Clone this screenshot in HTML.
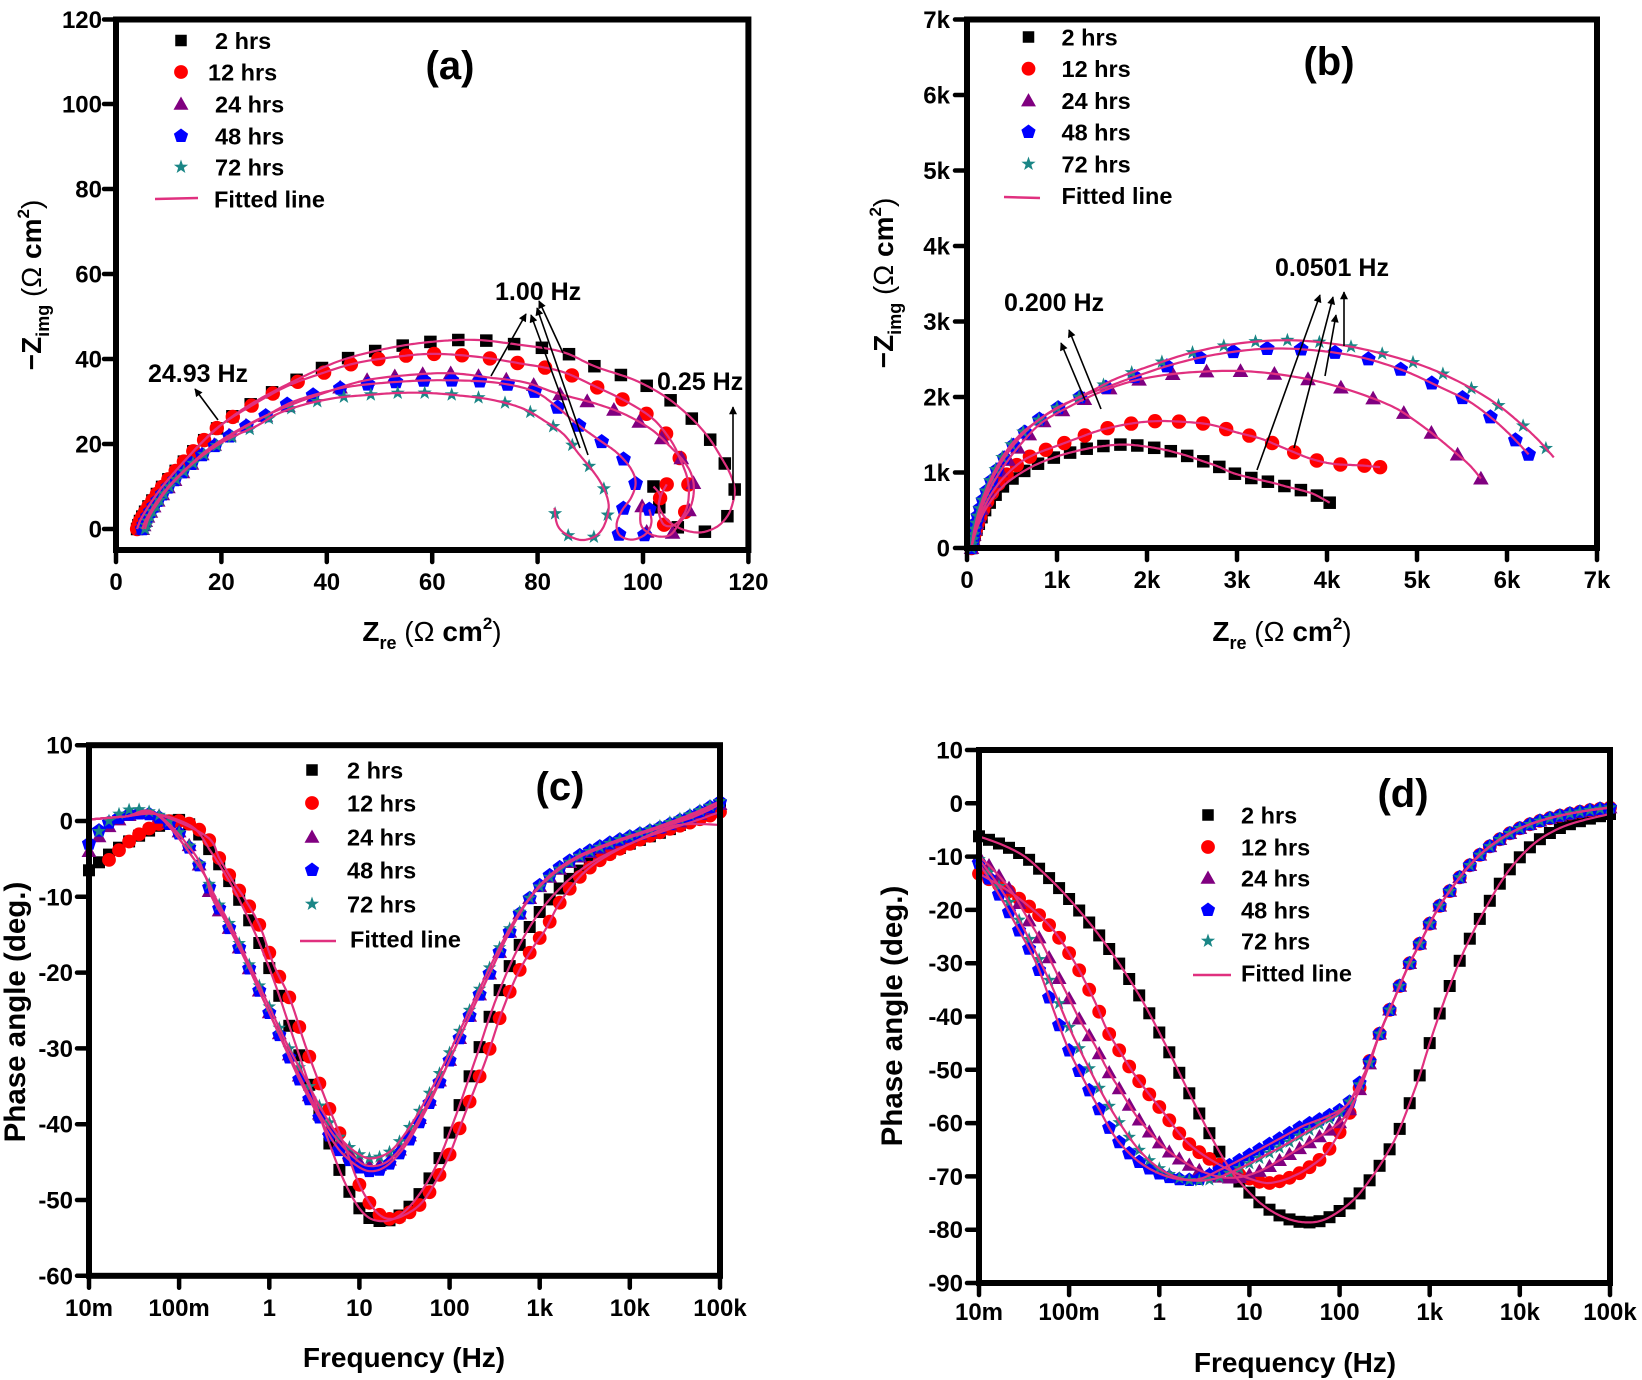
<!DOCTYPE html>
<html><head><meta charset="utf-8"><title>EIS plots</title>
<style>
html,body{margin:0;padding:0;background:#fff;width:1642px;height:1380px;overflow:hidden}
svg{display:block}
text{font-family:"Liberation Sans",Arial,sans-serif;font-weight:bold;fill:#000}
.n{font-weight:normal}
.t{font-size:24px}
.lg{font-size:23.5px}
.an{font-size:25px}
.ti{font-size:28px}
.tp{font-size:29.5px}
.pl{font-size:40px}
</style></head><body>
<svg id="svg" xmlns="http://www.w3.org/2000/svg" width="1642" height="1380" viewBox="0 0 1642 1380">
<defs>
<rect id="m-sq" x="-5" y="-5" width="10" height="10"/>
<circle id="m-ci" r="6"/>
<polygon id="m-tr" points="0,-6.5 6.5,5 -6.5,5"/>
<polygon id="m-pe" points="0,-6.5 6.18,-2.01 3.82,5.26 -3.82,5.26 -6.18,-2.01"/>
<polygon id="m-st" points="0,-6.5 1.53,-2.1 6.18,-2.01 2.47,0.8 3.82,5.26 0,2.6 -3.82,5.26 -2.47,0.8 -6.18,-2.01 -1.53,-2.1"/>
<marker id="ah" viewBox="0 0 10 10" refX="9" refY="5" markerWidth="11" markerHeight="8" markerUnits="userSpaceOnUse" orient="auto"><path d="M0,0 L10,5 L0,10 z" fill="#000"/></marker>
</defs>
<rect width="1642" height="1380" fill="#fff"/>
<g id="marks"></g>
<g id="lines"></g>

<!-- ===== Frames ===== -->
<g fill="none" stroke="#000" stroke-width="6">
<rect x="116" y="19.5" width="632.4" height="530.5"/>
<rect x="967" y="19.5" width="630" height="528.5"/>
<rect x="89" y="745.2" width="631" height="530.6"/>
<rect x="979" y="750" width="631" height="533"/>
</g>
<!-- ===== Ticks ===== -->
<g fill="none" stroke="#000" stroke-width="4.5" stroke-linecap="round">
<path d="M116,529h-12M116,444h-12M116,359h-12M116,274h-12M116,189h-12M116,104h-12M116,19.5h-12"/>
<path d="M116,550v12M221.4,550v12M326.8,550v12M432.2,550v12M537.6,550v12M643,550v12M748.4,550v12"/>
<path d="M967,548h-12M967,472.5h-12M967,397h-12M967,321.5h-12M967,246h-12M967,170.5h-12M967,95h-12M967,19.5h-12"/>
<path d="M967,548v12M1057,548v12M1147,548v12M1237,548v12M1327,548v12M1417,548v12M1507,548v12M1597,548v12"/>
<path d="M89,745.2h-12M89,821h-12M89,896.8h-12M89,972.6h-12M89,1048.4h-12M89,1124.2h-12M89,1200h-12M89,1275.8h-12"/>
<path d="M89,1275.8v12M179.1,1275.8v12M269.3,1275.8v12M359.4,1275.8v12M449.6,1275.8v12M539.7,1275.8v12M629.8,1275.8v12M720,1275.8v12"/>
<path d="M979,750h-12M979,803.3h-12M979,856.6h-12M979,909.9h-12M979,963.2h-12M979,1016.5h-12M979,1069.8h-12M979,1123.1h-12M979,1176.4h-12M979,1229.7h-12M979,1283h-12"/>
<path d="M979,1283v12M1069.1,1283v12M1159.3,1283v12M1249.4,1283v12M1339.6,1283v12M1429.7,1283v12M1519.8,1283v12M1610,1283v12"/>
</g>

<!-- ===== Tick labels (a) ===== -->
<g class="t" text-anchor="end">
<text x="102" y="537.5">0</text><text x="102" y="452.5">20</text><text x="102" y="367.5">40</text><text x="102" y="282.5">60</text><text x="102" y="197.5">80</text><text x="102" y="112.5">100</text><text x="102" y="28">120</text>
</g>
<g class="t" text-anchor="middle">
<text x="116" y="590">0</text><text x="221.4" y="590">20</text><text x="326.8" y="590">40</text><text x="432.2" y="590">60</text><text x="537.6" y="590">80</text><text x="643" y="590">100</text><text x="748.4" y="590">120</text>
</g>
<!-- (b) -->
<g class="t" text-anchor="end">
<text x="950" y="556.5">0</text><text x="950" y="481">1k</text><text x="950" y="405.5">2k</text><text x="950" y="330">3k</text><text x="950" y="254.5">4k</text><text x="950" y="179">5k</text><text x="950" y="103.5">6k</text><text x="950" y="28">7k</text>
</g>
<g class="t" text-anchor="middle">
<text x="967" y="588">0</text><text x="1057" y="588">1k</text><text x="1147" y="588">2k</text><text x="1237" y="588">3k</text><text x="1327" y="588">4k</text><text x="1417" y="588">5k</text><text x="1507" y="588">6k</text><text x="1597" y="588">7k</text>
</g>
<!-- (c) -->
<g class="t" text-anchor="end">
<text x="73" y="753.7">10</text><text x="73" y="829.5">0</text><text x="73" y="905.3">-10</text><text x="73" y="981.1">-20</text><text x="73" y="1056.9">-30</text><text x="73" y="1132.7">-40</text><text x="73" y="1208.5">-50</text><text x="73" y="1284.3">-60</text>
</g>
<g class="t" text-anchor="middle">
<text x="89" y="1316">10m</text><text x="179.1" y="1316">100m</text><text x="269.3" y="1316">1</text><text x="359.4" y="1316">10</text><text x="449.6" y="1316">100</text><text x="539.7" y="1316">1k</text><text x="629.8" y="1316">10k</text><text x="720" y="1316">100k</text>
</g>
<!-- (d) -->
<g class="t" text-anchor="end">
<text x="963" y="758.5">10</text><text x="963" y="811.8">0</text><text x="963" y="865.1">-10</text><text x="963" y="918.4">-20</text><text x="963" y="971.7">-30</text><text x="963" y="1025">-40</text><text x="963" y="1078.3">-50</text><text x="963" y="1131.6">-60</text><text x="963" y="1184.9">-70</text><text x="963" y="1238.2">-80</text><text x="963" y="1291.5">-90</text>
</g>
<g class="t" text-anchor="middle">
<text x="979" y="1320">10m</text><text x="1069.1" y="1320">100m</text><text x="1159.3" y="1320">1</text><text x="1249.4" y="1320">10</text><text x="1339.6" y="1320">100</text><text x="1429.7" y="1320">1k</text><text x="1519.8" y="1320">10k</text><text x="1610" y="1320">100k</text>
</g>

<!-- ===== Axis titles ===== -->
<text class="ti" x="432" y="641" text-anchor="middle">Z<tspan font-size="18" dy="8">re</tspan><tspan class="n" dy="-8"> (Ω </tspan>cm<tspan font-size="17" dy="-12">2</tspan><tspan class="n" dy="12">)</tspan></text>
<text class="ti" transform="translate(41,285) rotate(-90)" text-anchor="middle">−Z<tspan font-size="18" dy="8">img</tspan><tspan class="n" dy="-8"> (Ω </tspan>cm<tspan font-size="17" dy="-12">2</tspan><tspan class="n" dy="12">)</tspan></text>
<text class="ti" x="1282" y="641" text-anchor="middle">Z<tspan font-size="18" dy="8">re</tspan><tspan class="n" dy="-8"> (Ω </tspan>cm<tspan font-size="17" dy="-12">2</tspan><tspan class="n" dy="12">)</tspan></text>
<text class="ti" transform="translate(893,283) rotate(-90)" text-anchor="middle">−Z<tspan font-size="18" dy="8">img</tspan><tspan class="n" dy="-8"> (Ω </tspan>cm<tspan font-size="17" dy="-12">2</tspan><tspan class="n" dy="12">)</tspan></text>
<text class="ti" x="404" y="1367" text-anchor="middle">Frequency (Hz)</text>
<text class="tp" transform="translate(25,1012) rotate(-90)" text-anchor="middle">Phase angle (deg.)</text>
<text class="ti" x="1295" y="1372" text-anchor="middle">Frequency (Hz)</text>
<text class="tp" transform="translate(902,1016) rotate(-90)" text-anchor="middle">Phase angle (deg.)</text>

<!-- ===== Panel labels ===== -->
<text class="pl" x="450" y="79" text-anchor="middle">(a)</text>
<text class="pl" x="1329" y="75" text-anchor="middle">(b)</text>
<text class="pl" x="560" y="800" text-anchor="middle">(c)</text>
<text class="pl" x="1403" y="807" text-anchor="middle">(d)</text>

<!-- ===== Legends ===== -->
<g>
<use href="#m-sq" transform="translate(181,40.5) scale(1.15)" fill="#000"/>
<use href="#m-ci" transform="translate(181,72) scale(1.15)" fill="#ff0000"/>
<use href="#m-tr" transform="translate(181,104) scale(1.15)" fill="#800080"/>
<use href="#m-pe" transform="translate(181,136) scale(1.15)" fill="#0000ff"/>
<use href="#m-st" transform="translate(181,167) scale(1.15)" fill="#1a8686"/>
<line x1="155" y1="199" x2="198" y2="198" stroke="#e0307f" stroke-width="2.5"/>
<text class="lg" x="215" y="49">2 hrs</text>
<text class="lg" x="208" y="80.5">12 hrs</text>
<text class="lg" x="215" y="112.5">24 hrs</text>
<text class="lg" x="215" y="144.5">48 hrs</text>
<text class="lg" x="215" y="175.5">72 hrs</text>
<text class="lg" x="214" y="207.5">Fitted line</text>
</g>
<g>
<use href="#m-sq" transform="translate(1028.5,37) scale(1.15)" fill="#000"/>
<use href="#m-ci" transform="translate(1028.5,68.7) scale(1.15)" fill="#ff0000"/>
<use href="#m-tr" transform="translate(1028.5,100.6) scale(1.15)" fill="#800080"/>
<use href="#m-pe" transform="translate(1028.5,132) scale(1.15)" fill="#0000ff"/>
<use href="#m-st" transform="translate(1028.5,164) scale(1.15)" fill="#1a8686"/>
<line x1="1004" y1="197" x2="1040" y2="198" stroke="#e0307f" stroke-width="2.5"/>
<text class="lg" x="1061.5" y="45.5">2 hrs</text>
<text class="lg" x="1061.5" y="77.2">12 hrs</text>
<text class="lg" x="1061.5" y="109.1">24 hrs</text>
<text class="lg" x="1061.5" y="140.5">48 hrs</text>
<text class="lg" x="1061.5" y="172.5">72 hrs</text>
<text class="lg" x="1061.5" y="204">Fitted line</text>
</g>
<g>
<use href="#m-sq" transform="translate(312,770) scale(1.15)" fill="#000"/>
<use href="#m-ci" transform="translate(312,803) scale(1.15)" fill="#ff0000"/>
<use href="#m-tr" transform="translate(312,837) scale(1.15)" fill="#800080"/>
<use href="#m-pe" transform="translate(312,870) scale(1.15)" fill="#0000ff"/>
<use href="#m-st" transform="translate(312,904) scale(1.15)" fill="#1a8686"/>
<line x1="300" y1="941" x2="336" y2="941" stroke="#e0307f" stroke-width="2.5"/>
<text class="lg" x="347" y="778.5">2 hrs</text>
<text class="lg" x="347" y="811.5">12 hrs</text>
<text class="lg" x="347" y="845.5">24 hrs</text>
<text class="lg" x="347" y="878.5">48 hrs</text>
<text class="lg" x="347" y="912.5">72 hrs</text>
<text class="lg" x="350" y="947.5">Fitted line</text>
</g>
<g>
<use href="#m-sq" transform="translate(1208,815) scale(1.15)" fill="#000"/>
<use href="#m-ci" transform="translate(1208,847) scale(1.15)" fill="#ff0000"/>
<use href="#m-tr" transform="translate(1208,878) scale(1.15)" fill="#800080"/>
<use href="#m-pe" transform="translate(1208,910) scale(1.15)" fill="#0000ff"/>
<use href="#m-st" transform="translate(1208,941) scale(1.15)" fill="#1a8686"/>
<line x1="1193" y1="975" x2="1231" y2="975" stroke="#e0307f" stroke-width="2.5"/>
<text class="lg" x="1241" y="823.5">2 hrs</text>
<text class="lg" x="1241" y="855.5">12 hrs</text>
<text class="lg" x="1241" y="886.5">24 hrs</text>
<text class="lg" x="1241" y="918.5">48 hrs</text>
<text class="lg" x="1241" y="949.5">72 hrs</text>
<text class="lg" x="1241" y="981.5">Fitted line</text>
</g>

<!-- ===== Annotations ===== -->
<g stroke="#000" stroke-width="1.6" marker-end="url(#ah)">
<line x1="218" y1="420" x2="195" y2="389"/>
<line x1="491" y1="376" x2="526" y2="314"/>
<line x1="563" y1="353" x2="539" y2="301"/>
<line x1="580" y1="448" x2="531" y2="315"/>
<line x1="588" y1="455" x2="537" y2="308"/>
<line x1="733" y1="500" x2="733" y2="407"/>
<line x1="1101" y1="409" x2="1069" y2="330"/>
<line x1="1085" y1="400" x2="1061" y2="343"/>
<line x1="1257" y1="470" x2="1320" y2="295"/>
<line x1="1294" y1="448" x2="1333" y2="297"/>
<line x1="1325" y1="376" x2="1336" y2="315"/>
<line x1="1344" y1="346" x2="1344" y2="292"/>
</g>
<text class="an" x="148" y="382">24.93 Hz</text>
<text class="an" x="495" y="300">1.00 Hz</text>
<text class="an" x="657" y="390">0.25 Hz</text>
<text class="an" x="1004" y="311">0.200 Hz</text>
<text class="an" x="1275" y="276">0.0501 Hz</text>
</svg>
<script>
(function(){
const NS='http://www.w3.org/2000/svg';
const gM=document.getElementById('marks'), gL=document.getElementById('lines');
const PINK='#e0307f';
const COL={bk:'#000',rd:'#ff0000',pu:'#800080',bl:'#0000ff',te:'#1a8686'};
function add(p,tag,a){const e=document.createElementNS(NS,tag);for(const k in a)e.setAttribute(k,a[k]);p.appendChild(e);return e;}
function mark(t,x,y,c,s){add(gM,'use',{href:'#m-'+t,transform:'translate('+x.toFixed(1)+','+y.toFixed(1)+') scale('+s+')',fill:c});}
function line(poly){add(gL,'path',{d:'M'+poly.map(p=>p[0].toFixed(1)+','+p[1].toFixed(1)).join('L'),fill:'none',stroke:PINK,'stroke-width':2.2,'stroke-linejoin':'round'});}
function cr(pts,n){const o=[];for(let i=0;i<pts.length-1;i++){const p0=pts[Math.max(i-1,0)],p1=pts[i],p2=pts[i+1],p3=pts[Math.min(i+2,pts.length-1)];
 for(let j=0;j<n;j++){const t=j/n,t2=t*t,t3=t2*t;const f=k=>0.5*((2*p1[k])+(-p0[k]+p2[k])*t+(2*p0[k]-5*p1[k]+4*p2[k]-p3[k])*t2+(-p0[k]+3*p1[k]-3*p2[k]+p3[k])*t3);o.push([f(0),f(1)]);}}
 o.push(pts[pts.length-1].slice());return o;}
function resample(poly,sp){const r=[poly[0].slice()];let tot=0,need=sp(0),car=0;
 for(let i=1;i<poly.length;i++){let ax=poly[i-1][0],ay=poly[i-1][1];const bx=poly[i][0],by=poly[i][1];let d=Math.hypot(bx-ax,by-ay);
  while(d>0&&car+d>=need){const t=(need-car)/d;ax=ax+(bx-ax)*t;ay=ay+(by-ay)*t;d=Math.hypot(bx-ax,by-ay);tot+=need;r.push([ax,ay]);car=0;need=sp(tot);}
  car+=d;}
 const last=poly[poly.length-1];const lr=r[r.length-1];if(Math.hypot(last[0]-lr[0],last[1]-lr[1])>need*0.5)r.push(last.slice());
 return r;}
function yAt(d,x){for(let i=1;i<d.length;i++){const a=d[i-1],b=d[i];if((a[0]<=x&&x<=b[0])||(b[0]<=x&&x<=a[0])){const t=(b[0]===a[0])?0:(x-a[0])/(b[0]-a[0]);return a[1]+(b[1]-a[1])*t;}}return null;}

const XA=v=>116+5.27*v, YA=v=>529-4.25*v;
const XB=v=>967+90*v, YB=v=>548-75.5*v;
const XC=v=>89+90.14*(v+2), YC=v=>821-7.58*v;
const XD=v=>979+90.14*(v+2), YD=v=>803.3-5.33*v;

function nyq(data,X,Y,t,c,maxSp,sc){const px=data.map(p=>[X(p[0]),Y(p[1])]);const d=cr(px,12);
 const mk=resample(d,s=>Math.min(4+0.12*s,maxSp));mk.forEach(p=>mark(t,p[0],p[1],c,sc));line(d);}
function bode(data,X,Y,t,c,sc,fit){const d=cr(data.map(p=>[X(p[0]),Y(p[1])]),10);const x0=data[0][0],x1=data[data.length-1][0];
 for(let k=0;k<=63;k++){const lf=-2+k/9;if(lf<x0-1e-6||lf>x1+1e-6)continue;const y=yAt(d,X(lf));if(y!==null)mark(t,X(lf),y,c,sc);}
 line(fit?cr(fit.map(p=>[X(p[0]),Y(p[1])]),10):d);}

/* ---------- (a) ---------- */
const a_bk=[[4,0],[4.6,2],[5.5,4],[6.8,6.5],[8.5,9.5],[10.5,12.5],[13,16],[16,20],[19.5,24],[23,27.3],[27,30.4],[32,33.7],[37.5,37],[43.5,40],[51.5,42.5],[59.5,44],[68,44.5],[76.2,43.4],[84.6,41.7],[91,38.2],[98.5,35],[104.4,31],[109,26.3],[112.4,21.6],[115,16.5],[116.6,12.8],[117.4,9.3],[117,6],[116,3],[114,0.5],[111,-0.8],[108,-0.3],[105.5,1.2],[104,3],[103,5.5],[103.2,8],[102,10]];
const a_rd=[[4,0],[4.6,2],[5.5,4],[6.8,6.5],[8.5,9.5],[10.5,12.5],[13,16],[16,20],[19.6,24.2],[25,28.5],[32.3,33.5],[39,36.6],[45.4,39],[53,40.5],[60.3,41.2],[68.7,40.5],[76.5,39],[84.4,37.1],[91,33.5],[97,29.9],[102,25.8],[105.4,20.6],[107.2,16],[108.4,12],[108.7,8],[108,4],[106,1],[104,1],[103,4],[103.3,7.5],[104.5,10.5]];
const a_pu=[[5,0],[5.6,2],[6.5,4],[7.8,6.5],[9.5,9.3],[11.5,12],[14,15],[17,18.3],[20.5,21.3],[24.5,24.2],[29,27],[34,29.6],[39.5,32],[47.4,35],[57.3,36.4],[64.2,36.6],[71,35.6],[77.6,34.5],[83.5,32],[91,29.5],[96.5,27],[101.5,23.5],[105,19.6],[108,15.5],[109.4,12],[109.6,8.2],[108.8,4.6],[107,1.5],[105,-1.5],[102,-1.5],[99.8,0.5],[99.5,3.5],[100,6]];
const a_bl=[[5,0],[5.6,2],[6.5,4],[7.8,6.5],[9.5,9.3],[11.5,12],[14,15],[17,18],[20.5,21],[24.5,24],[29,27],[33.5,29.9],[39.5,32.2],[45.4,33.7],[54.3,34.7],[62.3,35],[71.7,34.5],[79.1,32.5],[83.5,28.9],[87.5,24.7],[91.5,21.1],[95,18],[97.6,14.4],[98.6,11],[97.8,7.5],[96,4.3],[95,1.2],[95.6,-1.5],[98,-2.5],[100.5,-1.2],[101.6,1.5],[101.2,4.6]];
const a_te=[[5.5,0],[6,2],[6.8,4],[8,6.3],[9.5,9],[11.5,11.8],[14,14.8],[17,17.8],[21,21],[26.6,24.2],[30.5,27],[35.5,29.2],[41.5,30.8],[47.4,31.5],[53.4,32],[59.3,32],[65.3,31.4],[71.3,30.4],[77.1,28.4],[81.5,25.3],[85,22.2],[87.6,18],[90,14.4],[91.8,11.3],[93,8.2],[93.5,5.2],[93,2],[92,-0.5],[90.5,-2],[88.5,-2.6],[86.6,-2],[84.6,-0.5],[83.6,1.5],[83.2,5]];
nyq(a_bk,XA,YA,'sq',COL.bk,28,1.25);
nyq(a_rd,XA,YA,'ci',COL.rd,28,1.2);
nyq(a_pu,XA,YA,'tr',COL.pu,28,1.2);
nyq(a_bl,XA,YA,'pe',COL.bl,28,1.2);
nyq(a_te,XA,YA,'st',COL.te,27,1.15);

/* ---------- (b) ---------- */
const b_bk=[[0.05,0],[0.08,0.15],[0.13,0.32],[0.2,0.5],[0.3,0.68],[0.42,0.84],[0.58,0.98],[0.76,1.1],[0.97,1.2],[1.2,1.28],[1.45,1.34],[1.72,1.37],[1.95,1.35],[2.2,1.3],[2.42,1.23],[2.62,1.15],[2.79,1.08],[2.94,1.0],[3.08,0.95],[3.26,0.9],[3.41,0.86],[3.56,0.81],[3.7,0.77],[3.84,0.72],[3.94,0.66],[4.03,0.6]];
const b_rd=[[0.05,0],[0.08,0.17],[0.13,0.36],[0.2,0.56],[0.3,0.77],[0.43,0.96],[0.6,1.14],[0.77,1.25],[0.97,1.34],[1.22,1.45],[1.48,1.56],[1.78,1.64],[2.09,1.68],[2.42,1.67],[2.72,1.63],[3.0,1.53],[3.26,1.45],[3.45,1.36],[3.65,1.26],[3.8,1.19],[3.95,1.14],[4.1,1.11],[4.26,1.1],[4.42,1.09],[4.59,1.07]];
const b_pu=[[0.05,0],[0.08,0.2],[0.13,0.42],[0.2,0.64],[0.3,0.88],[0.43,1.12],[0.6,1.38],[0.83,1.66],[1.15,1.88],[1.47,2.06],[1.84,2.21],[2.25,2.3],[2.69,2.34],[3.12,2.34],[3.58,2.28],[3.99,2.18],[4.4,2.03],[4.75,1.86],[5.01,1.66],[5.24,1.45],[5.43,1.26],[5.59,1.09],[5.71,0.92]];
const b_bl=[[0.05,0],[0.08,0.22],[0.13,0.46],[0.2,0.7],[0.3,0.96],[0.43,1.22],[0.6,1.48],[0.8,1.7],[1.05,1.88],[1.3,2.02],[1.55,2.13],[1.87,2.27],[2.31,2.44],[2.8,2.57],[3.33,2.64],[3.85,2.62],[4.36,2.53],[4.83,2.36],[5.24,2.14],[5.58,1.94],[5.85,1.7],[6.06,1.47],[6.24,1.24]];
const b_te=[[0.05,0],[0.08,0.23],[0.13,0.48],[0.2,0.73],[0.3,1.0],[0.43,1.27],[0.59,1.5],[0.8,1.7],[0.99,1.85],[1.23,1.99],[1.45,2.12],[1.67,2.25],[2.08,2.43],[2.54,2.6],[3.09,2.72],[3.65,2.75],[4.2,2.68],[4.69,2.55],[5.14,2.38],[5.55,2.15],[5.88,1.91],[6.13,1.67],[6.34,1.44],[6.52,1.2]];
nyq(b_bk,XB,YB,'sq',COL.bk,17,1.25);
nyq(b_rd,XB,YB,'ci',COL.rd,24,1.2);
nyq(b_pu,XB,YB,'tr',COL.pu,34,1.2);
nyq(b_bl,XB,YB,'pe',COL.bl,34,1.2);
nyq(b_te,XB,YB,'st',COL.te,32,1.15);

/* ---------- (c) ---------- */
const c_bk=[[-2,-6.5],[-1.75,-4.2],[-1.5,-2.3],[-1.25,-0.8],[-1.05,0.2],[-0.85,-0.8],[-0.65,-4],[-0.5,-6.8],[-0.35,-10],[-0.15,-15],[0.05,-21],[0.25,-28],[0.45,-35],[0.65,-42],[0.85,-48],[1.05,-51.8],[1.25,-52.8],[1.45,-52],[1.65,-49.5],[1.85,-45.5],[2.05,-39.5],[2.3,-31],[2.5,-24],[2.75,-17],[3.0,-12],[3.3,-8],[3.6,-5.3],[4.0,-3],[4.5,-0.8],[5,2]];
const c_rd=[[-1.85,-6],[-1.68,-4],[-1.5,-2.2],[-1.3,-0.8],[-1.1,0],[-0.9,-0.3],[-0.7,-2],[-0.55,-5],[-0.4,-8],[-0.26,-10.5],[-0.1,-14],[0.05,-19],[0.23,-23.5],[0.4,-29.6],[0.6,-36],[0.84,-43],[1.0,-48],[1.19,-51.6],[1.36,-52.5],[1.56,-51.6],[1.71,-50.1],[1.85,-47.5],[2.0,-44],[2.2,-37.7],[2.4,-31.6],[2.58,-25.2],[2.75,-20.3],[2.92,-16.8],[3.07,-14.2],[3.21,-11],[3.39,-8.1],[3.56,-6.1],[3.79,-4.3],[4.08,-2.6],[4.43,-1.1],[4.72,0],[5,1.2]];
const c_pu=[[-2,-4],[-1.85,-1.5],[-1.65,0.3],[-1.45,1],[-1.25,0.8],[-1.05,-0.8],[-0.9,-3],[-0.75,-6.5],[-0.64,-10],[-0.45,-14],[-0.26,-18.5],[-0.05,-24],[0.17,-29.5],[0.35,-34],[0.55,-38.5],[0.75,-42],[0.95,-44.5],[1.1,-45.5],[1.3,-45],[1.5,-42.5],[1.7,-38.5],[1.9,-34],[2.06,-30],[2.25,-25],[2.45,-20],[2.65,-15],[2.87,-10.5],[3.1,-7.5],[3.4,-5],[3.8,-3],[4.3,-1],[4.7,0.5],[5,2.2]];
const c_bl=[[-2,-3],[-1.85,-0.8],[-1.65,0.5],[-1.45,1],[-1.25,0.6],[-1.05,-1],[-0.9,-3.3],[-0.75,-6.5],[-0.62,-10],[-0.45,-14],[-0.26,-18.5],[-0.05,-24],[0.17,-29.8],[0.35,-34.5],[0.55,-39],[0.75,-43],[0.95,-45.3],[1.12,-46.2],[1.3,-45.5],[1.5,-43],[1.7,-39],[1.9,-34.2],[2.06,-30],[2.25,-25],[2.45,-20],[2.65,-15],[2.87,-10.5],[3.1,-7.3],[3.4,-4.8],[3.8,-2.8],[4.3,-1],[4.7,0.8],[5,2.5]];
const c_te=[[-1.9,-1.5],[-1.75,0.3],[-1.55,1.5],[-1.35,1.3],[-1.15,0.3],[-1.0,-1.5],[-0.85,-4],[-0.7,-7.5],[-0.58,-10.5],[-0.4,-14.5],[-0.2,-19.5],[0.0,-24.5],[0.2,-29.5],[0.4,-34],[0.6,-38.5],[0.8,-42],[1.0,-44],[1.15,-44.5],[1.35,-43.5],[1.55,-40.5],[1.75,-36.5],[1.95,-31.8],[2.1,-28],[2.3,-23],[2.5,-18],[2.7,-13.5],[2.9,-10],[3.15,-7],[3.45,-4.6],[3.85,-2.6],[4.3,-0.8],[4.7,1],[5,2.6]];
function fitC(d,endFix){let f=[[-2,0.2],[-1.6,0.6],[-1.25,0.9]].concat(d.filter(p=>p[0]>=-0.85));if(endFix)f=f.filter(p=>p[0]<=4.0).concat([[4.5,-0.6],[5,-0.5]]);return f;}
bode(c_bk,XC,YC,'sq',COL.bk,1.2,fitC(c_bk,true));
bode(c_rd,XC,YC,'ci',COL.rd,1.15,fitC(c_rd,false));
bode(c_pu,XC,YC,'tr',COL.pu,1.15,fitC(c_pu,false));
bode(c_bl,XC,YC,'pe',COL.bl,1.15,fitC(c_bl,false));
bode(c_te,XC,YC,'st',COL.te,1.1,fitC(c_te,false));

/* ---------- (d) ---------- */
const merged=[[2.45,-43],[2.6,-37],[2.75,-31],[2.9,-26],[3.05,-21],[3.2,-17],[3.4,-12.5],[3.6,-9],[3.85,-6],[4.1,-4],[4.4,-2.5],[4.7,-1.5],[5,-0.8]];
const d_bk=[[-2,-6.2],[-1.74,-7.8],[-1.5,-9.9],[-1.3,-12.8],[-1.1,-16.1],[-0.9,-19.9],[-0.72,-23.6],[-0.52,-28.2],[-0.31,-33.6],[-0.14,-38.5],[0.09,-46],[0.33,-54.3],[0.59,-63],[0.8,-69],[1.02,-73.4],[1.2,-76],[1.4,-77.8],[1.6,-78.6],[1.8,-78.3],[2.0,-76.5],[2.19,-73.8],[2.36,-70.1],[2.5,-66.5],[2.63,-62.5],[2.75,-57.5],[2.88,-51.5],[3.0,-45],[3.12,-39],[3.24,-33.5],[3.36,-28.5],[3.5,-23.5],[3.65,-18.8],[3.8,-14.5],[3.98,-10.5],[4.2,-7],[4.45,-4.6],[4.7,-3.2],[5,-2]];
const d_rd=[[-2,-13.2],[-1.74,-15.7],[-1.5,-18.6],[-1.27,-22],[-1.1,-25.5],[-0.9,-31],[-0.72,-37],[-0.58,-42.5],[-0.42,-47],[-0.25,-51.5],[0.01,-57.2],[0.33,-63.9],[0.73,-68.4],[1.11,-71],[1.31,-71],[1.52,-69.7],[1.69,-68],[1.84,-65.9],[1.97,-62.6],[2.1,-58.5],[2.22,-53.5],[2.33,-48.5]].concat(merged);
const d_pu=[[-2,-9.9],[-1.8,-13.2],[-1.62,-17],[-1.48,-21],[-1.33,-25.3],[-1.22,-29],[-1.1,-33.2],[-0.98,-37.3],[-0.87,-41],[-0.72,-45.2],[-0.58,-49.8],[-0.43,-53.9],[-0.26,-58.5],[-0.08,-62.2],[0.09,-65.1],[0.27,-67.2],[0.44,-68.8],[0.67,-70.1],[0.91,-70.1],[1.14,-68.8],[1.31,-67.2],[1.52,-65.1],[1.69,-63.4],[1.87,-61.5],[2.05,-59],[2.2,-54.5],[2.33,-49]].concat(merged);
const d_bl=[[-2,-11.2],[-1.8,-16.5],[-1.6,-22.5],[-1.36,-30.2],[-1.16,-39.4],[-1.01,-46],[-0.84,-51.8],[-0.66,-57.6],[-0.49,-62.6],[-0.26,-66.8],[-0.02,-69.3],[0.21,-70.5],[0.44,-70.5],[0.67,-68.8],[0.91,-66.8],[1.14,-64.7],[1.37,-62.6],[1.6,-60.5],[1.84,-58.9],[2.07,-56.8],[2.19,-53.5],[2.32,-49]].concat(merged);
const d_te=[[-2,-10.5],[-1.8,-15],[-1.6,-20.5],[-1.4,-27],[-1.2,-34],[-1.0,-42],[-0.8,-49],[-0.6,-55.5],[-0.4,-61],[-0.2,-65.5],[0.0,-68.5],[0.2,-70.2],[0.4,-70.8],[0.6,-70.5],[0.8,-69.2],[1.0,-67.6],[1.2,-65.8],[1.4,-64],[1.6,-62],[1.8,-60],[2.0,-58],[2.15,-55],[2.32,-49.2]].concat(merged);
bode(d_bk,XD,YD,'sq',COL.bk,1.2);
bode(d_rd,XD,YD,'ci',COL.rd,1.15);
bode(d_pu,XD,YD,'tr',COL.pu,1.15);
bode(d_bl,XD,YD,'pe',COL.bl,1.15);
bode(d_te,XD,YD,'st',COL.te,1.1);
})();
</script>
</body></html>
